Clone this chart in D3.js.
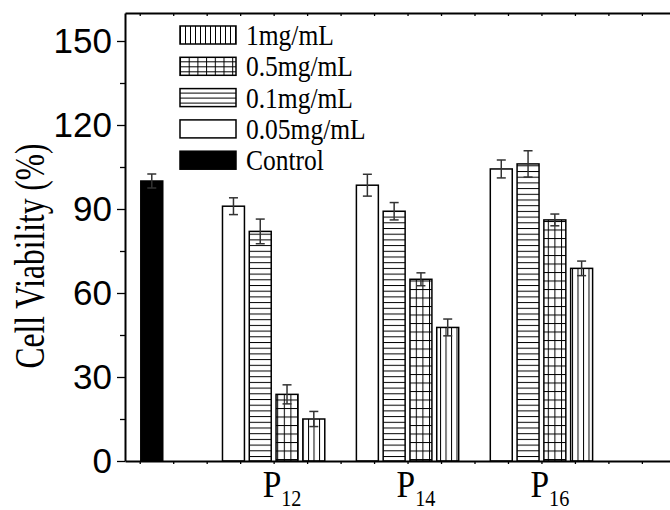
<html>
<head>
<meta charset="utf-8">
<title>Cell Viability</title>
<style>
  body { margin: 0; background: #fff; }
  svg { display: block; }
  .serif { font-family: 'Liberation Serif', 'Times New Roman', serif; }
  .sans  { font-family: 'Liberation Sans', Arial, sans-serif; }
</style>
</head>
<body>
<script src="https://cdn.jsdelivr.net/npm/d3@7"></script>
<script>

// data
var groups   = ["12", "14", "16"];          // P subscripts
var groupPos = [2, 3, 4];                   // group centres on the x scale
var controlPos = 1.09;
var series   = ["0.05mg/mL", "0.1mg/mL", "0.5mg/mL", "1mg/mL"];   // left to right in a group
var fills    = ["none", "hlines", "grid", "vlines"];
var v005 = [91.0, 98.5, 104.3],  e005 = [3.0, 3.9, 3.2];
var v01  = [82.0, 89.2, 106.1],  e01  = [4.4, 3.1, 4.7];
var v05  = [23.8, 64.9, 86.1],   e05  = [3.4, 2.3, 2.1];
var v1   = [15.0, 47.7, 68.8],   e1   = [2.7, 3.0, 2.6];
var controlVal = 100.0, controlErr = 2.5;
var yTicks = [0, 30, 60, 90, 120, 150];
var yMinor = [15, 45, 75, 105, 135];
var legendNames = ["1mg/mL", "0.5mg/mL", "0.1mg/mL", "0.05mg/mL", "Control"];
var legendFills = ["vlines", "grid", "hlines", "none", "black"];

var values = [v005, v01, v05, v1];
var errors = [e005, e01, e05, e1];

var width = 670, height = 510;
var svg = d3.select("body").append("svg")
    .attr("width", width)
    .attr("height", height);

var x = d3.scaleLinear().domain([0.89, 4.96]).range([125, 670]);
var y = d3.scaleLinear().domain([0, 160]).range([461, 13]);

var barW = 0.164, barStep = 0.2;

// hatch patterns
var defs = svg.append("defs");
function pattern(id, w, h, vert, horz) {
  var p = defs.append("pattern").attr("id", id)
      .attr("patternUnits", "userSpaceOnUse")
      .attr("width", w).attr("height", h);
  p.append("rect").attr("width", w).attr("height", h).attr("fill", "#fff");
  if (vert) p.append("line").attr("x1", 0.5).attr("x2", 0.5).attr("y1", 0).attr("y2", h)
      .attr("stroke", "#000").attr("stroke-width", 1);
  if (horz) p.append("line").attr("x1", 0).attr("x2", w).attr("y1", 0.5).attr("y2", 0.5)
      .attr("stroke", "#000").attr("stroke-width", 1);
}
pattern("vlines", 5.5, 10, true, false);
pattern("hlines", 10, 5.7, false, true);
pattern("grid", 6.6, 8.5, true, true);
pattern("vlinesL", 5, 10, true, false);
pattern("hlinesL", 10, 5, false, true);
pattern("gridL", 8.7, 5, true, true);

function fillOf(f, legend) {
  if (f == "none") return "#fff";
  if (f == "black") return "#000";
  return "url(#" + f + (legend ? "L" : "") + ")";
}

// bar records
var bars = [];
groups.forEach(function(g, gi) {
  series.forEach(function(s, si) {
    bars.push({
      pos: groupPos[gi] + (si - 1.5) * barStep,
      val: values[si][gi],
      err: errors[si][gi],
      fill: fills[si]
    });
  });
});
bars.unshift({ pos: controlPos, val: controlVal, err: controlErr, fill: "black" });

svg.selectAll("rect.bar")
  .data(bars)
  .enter().append("rect")
  .attr("class", "bar")
  .attr("x", function(d){ return x(d.pos - barW / 2); })
  .attr("width", function(d){ return x(barW) - x(0); })
  .attr("y", function(d){ return y(d.val); })
  .attr("height", function(d){ return y(0) - y(d.val); })
  .attr("fill", function(d){ return fillOf(d.fill, false); })
  .attr("stroke", "#000")
  .attr("stroke-width", 1.5);

// error bars
var eb = svg.selectAll("g.err").data(bars).enter().append("g")
  .attr("class", "err")
  .attr("stroke", "#333")
  .attr("stroke-width", 1.5);
eb.append("line")
  .attr("x1", function(d){ return x(d.pos); }).attr("x2", function(d){ return x(d.pos); })
  .attr("y1", function(d){ return y(d.val + d.err); })
  .attr("y2", function(d){ return y(d.val - d.err); });
[1, -1].forEach(function(sgn) {
  eb.append("line")
    .attr("x1", function(d){ return x(d.pos) - 4.5; })
    .attr("x2", function(d){ return x(d.pos) + 4.5; })
    .attr("y1", function(d){ return y(d.val + sgn * d.err); })
    .attr("y2", function(d){ return y(d.val + sgn * d.err); });
});

// axes
var xt = d3.range(1, 4.8, 0.25);
svg.append("g").attr("transform", "translate(0," + y(0) + ")")
  .call(d3.axisBottom(x).tickValues(xt).tickSize(3).tickSizeOuter(0).tickFormat(""));
svg.append("g").attr("transform", "translate(0," + y(160) + ")")
  .call(d3.axisTop(x).tickValues(xt).tickSize(-3).tickSizeOuter(0).tickFormat(""));
var left = svg.append("g").attr("transform", "translate(" + x(0.89) + ",0)")
  .call(d3.axisLeft(y).tickValues(yTicks).tickSize(8).tickSizeOuter(0).tickPadding(5));
svg.append("g").attr("transform", "translate(" + x(0.89) + ",0)")
  .call(d3.axisLeft(y).tickValues(yMinor).tickSize(5).tickSizeOuter(0).tickFormat(""))
  .select(".domain").remove();

svg.selectAll(".domain").attr("stroke", "#000").attr("stroke-width", 2);
svg.selectAll(".tick line").attr("stroke", "#000").attr("stroke-width", 1.3);
left.selectAll("text")
  .attr("class", "sans")
  .attr("font-family", null)
  .attr("font-size", 35)
  .attr("fill", "#000");

// axis title (narrow, tall lettering as in the original)
svg.append("text")
  .attr("class", "serif")
  .attr("transform", "translate(44,256) rotate(-90) scale(0.75,1)")
  .attr("text-anchor", "middle")
  .attr("font-size", 42)
  .text("Cell Viability (%)");

// group labels
var gl = svg.selectAll("text.grp").data(groups).enter().append("text")
  .attr("class", "grp serif")
  .attr("transform", function(d, i){ return "translate(" + (x(groupPos[i]) - 11) + ",497) scale(0.88,1)"; })
  .attr("font-size", 38);
gl.append("tspan").text("P");
gl.append("tspan").attr("dy", 9).attr("font-size", 23).text(function(d){ return d; });

// legend
var lg = svg.selectAll("g.leg").data(legendNames).enter().append("g")
  .attr("class", "leg")
  .attr("transform", function(d, i){ return "translate(180," + (35 + i * 31.3) + ")"; });
lg.append("rect")
  .attr("x", 0).attr("y", -9).attr("width", 56).attr("height", 18)
  .attr("fill", function(d, i){ return fillOf(legendFills[i], true); })
  .attr("stroke", "#000").attr("stroke-width", 1.5);
lg.append("text")
  .attr("class", "serif")
  .attr("transform", "translate(66,10) scale(0.85,1)")
  .attr("font-size", 30)
  .text(function(d){ return d; });

</script>
</body>
</html>
